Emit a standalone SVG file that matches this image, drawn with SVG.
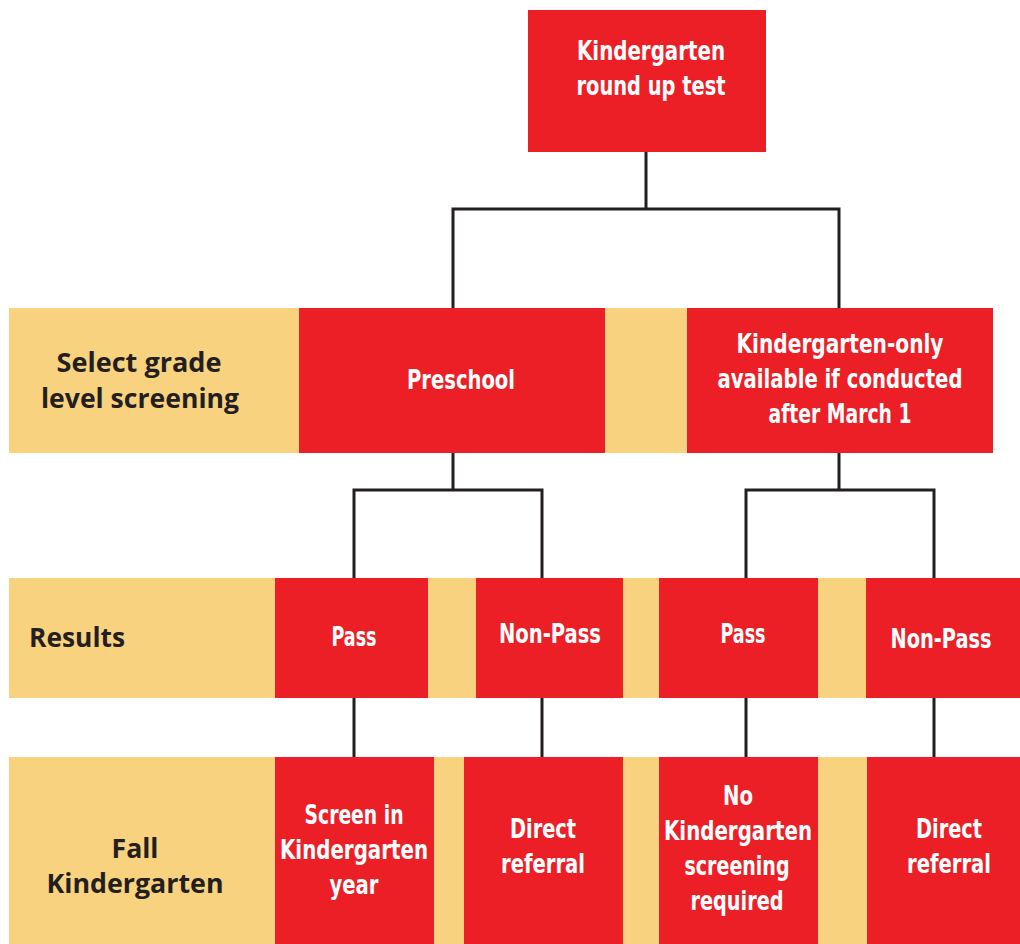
<svg xmlns="http://www.w3.org/2000/svg" width="1020" height="944" viewBox="0 0 1020 944">
<style>
.band{fill:#f8d27e}
.box{fill:#ec1f27}
.t{font-family:"DejaVu Sans",sans-serif;font-stretch:condensed;font-weight:bold;font-size:27px;fill:#ffffff;text-anchor:middle}
.l{font-family:"Open Sans","Liberation Sans",sans-serif;font-weight:bold;font-size:26px;fill:#231f20}
.c{fill:none;stroke:#231f20;stroke-width:3}
</style>
<g id="bands">
<rect class="band" x="9" y="308" width="984" height="145"/>
<rect class="band" x="9" y="578" width="1011" height="120"/>
<rect class="band" x="9" y="757" width="1011" height="187"/>
</g>
<g id="connectors">
<path class="c" d="M646 152V209M453 308V209H839V308"/>
<path class="c" d="M453 453V490M354 578V490H542V578"/>
<path class="c" d="M839 453V490M746 578V490H934V578"/>
<path class="c" d="M354 698V757M542 698V757M746 698V757M934 698V757"/>
</g>
<g id="n-top"><rect class="box" x="528" y="10" width="238" height="142"/>
<text class="t" x="651" y="60" textLength="148" lengthAdjust="spacingAndGlyphs">Kindergarten</text><text class="t" x="651" y="95" textLength="149" lengthAdjust="spacingAndGlyphs">round up test</text></g>
<g id="lbl-select"><text class="l" x="139" y="372" text-anchor="middle" textLength="165" lengthAdjust="spacingAndGlyphs">Select grade</text><text class="l" x="140" y="408" text-anchor="middle" textLength="198" lengthAdjust="spacingAndGlyphs">level screening</text></g>
<g id="n-preschool"><rect class="box" x="299" y="308" width="306" height="145"/>
<text class="t" x="461" y="389" textLength="108" lengthAdjust="spacingAndGlyphs">Preschool</text></g>
<g id="n-konly"><rect class="box" x="687" y="308" width="306" height="145"/>
<text class="t" x="840" y="353" textLength="207" lengthAdjust="spacingAndGlyphs">Kindergarten-only</text><text class="t" x="840" y="388" textLength="245" lengthAdjust="spacingAndGlyphs">available if conducted</text><text class="t" x="840" y="423" textLength="143" lengthAdjust="spacingAndGlyphs">after March 1</text></g>
<g id="lbl-results"><text class="l" x="29" y="647" textLength="96" lengthAdjust="spacingAndGlyphs">Results</text></g>
<g id="n-pass1"><rect class="box" x="275" y="578" width="153" height="120"/><text class="t" x="354" y="646" textLength="45" lengthAdjust="spacingAndGlyphs">Pass</text></g>
<g id="n-nonpass1"><rect class="box" x="476" y="578" width="147" height="120"/><text class="t" x="550" y="643" textLength="102" lengthAdjust="spacingAndGlyphs">Non-Pass</text></g>
<g id="n-pass2"><rect class="box" x="659" y="578" width="159" height="120"/><text class="t" x="743" y="643" textLength="45" lengthAdjust="spacingAndGlyphs">Pass</text></g>
<g id="n-nonpass2"><rect class="box" x="866" y="578" width="154" height="120"/><text class="t" x="941" y="648" textLength="101" lengthAdjust="spacingAndGlyphs">Non-Pass</text></g>
<g id="lbl-fall"><text class="l" x="135" y="858" text-anchor="middle" textLength="47" lengthAdjust="spacingAndGlyphs">Fall</text><text class="l" x="135" y="893" text-anchor="middle" textLength="177" lengthAdjust="spacingAndGlyphs">Kindergarten</text></g>
<g id="n-screen"><rect class="box" x="275" y="757" width="159" height="187"/>
<text class="t" x="354" y="824" textLength="99" lengthAdjust="spacingAndGlyphs">Screen in</text><text class="t" x="354" y="859" textLength="148" lengthAdjust="spacingAndGlyphs">Kindergarten</text><text class="t" x="354" y="894" textLength="49" lengthAdjust="spacingAndGlyphs">year</text></g>
<g id="n-direct1"><rect class="box" x="464" y="757" width="159" height="187"/>
<text class="t" x="543" y="838" textLength="66" lengthAdjust="spacingAndGlyphs">Direct</text><text class="t" x="543" y="873" textLength="84" lengthAdjust="spacingAndGlyphs">referral</text></g>
<g id="n-noscreen"><rect class="box" x="659" y="757" width="159" height="187"/>
<text class="t" x="738" y="805" textLength="30" lengthAdjust="spacingAndGlyphs">No</text><text class="t" x="738" y="840" textLength="148" lengthAdjust="spacingAndGlyphs">Kindergarten</text><text class="t" x="737" y="875" textLength="105" lengthAdjust="spacingAndGlyphs">screening</text><text class="t" x="737" y="910" textLength="93" lengthAdjust="spacingAndGlyphs">required</text></g>
<g id="n-direct2"><rect class="box" x="867" y="757" width="153" height="187"/>
<text class="t" x="949" y="838" textLength="66" lengthAdjust="spacingAndGlyphs">Direct</text><text class="t" x="949" y="873" textLength="84" lengthAdjust="spacingAndGlyphs">referral</text></g>
</svg>
